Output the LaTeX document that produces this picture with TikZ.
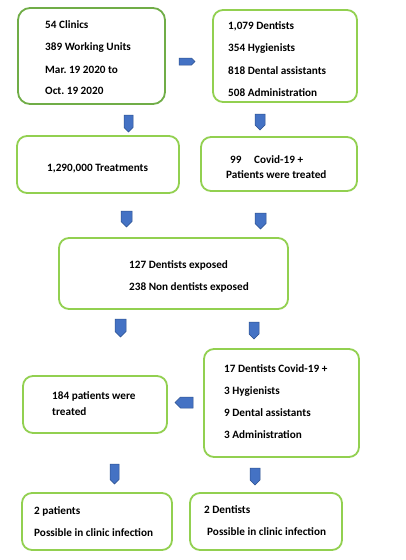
\documentclass[tikz,border=0pt]{standalone}
\usepackage{fontspec}
\setmainfont{Carlito}
\frenchspacing
\definecolor{boxgreen}{HTML}{92D050}
\definecolor{boxdark}{HTML}{70AD47}
\definecolor{arrblue}{HTML}{4472C4}
\definecolor{arrdark}{HTML}{2F528F}
\begin{document}
\begin{tikzpicture}[x=1pt,y=-1pt,
  box/.style={draw=boxgreen, line width=1.8pt, rounded corners=10pt, inner sep=0pt},
  txt/.style={anchor=base west, inner sep=0pt, font=\bfseries\fontsize{11.2}{13}\selectfont},
  blk/.style={fill=arrblue, draw=arrdark, line width=0.5pt},
  pics/darrow/.style n args={2}{code={\filldraw[blk] (-#1/2,0) -- (#1/2,0) -- (#1/2,#2-#1/2) -- (0,#2) -- (-#1/2,#2-#1/2) -- cycle;}},
  pics/rarrow/.style n args={2}{code={\filldraw[blk] (0,-#2/2) -- (#1-#2/2,-#2/2) -- (#1,0) -- (#1-#2/2,#2/2) -- (0,#2/2) -- cycle;}},
  pics/larrow/.style n args={2}{code={\filldraw[blk] (0,-#2/2) -- (-#1+#2/2,-#2/2) -- (-#1,0) -- (-#1+#2/2,#2/2) -- (0,#2/2) -- cycle;}}
]
\useasboundingbox[fill=white] (0,0) rectangle (406,560);

% boxes
\node[box, draw=boxdark, rounded corners=12pt, minimum width=147pt, minimum height=96pt] (b1) at (91.5,56) {};
\node[box, minimum width=144pt, minimum height=92pt] (b2) at (285,56) {};
\node[box, minimum width=162pt, minimum height=57pt] (b3) at (98,164.5) {};
\node[box, minimum width=156pt, minimum height=54pt] (b4) at (279,164) {};
\node[box, minimum width=229pt, minimum height=71pt] (b5) at (173.5,273.5) {};
\node[box, minimum width=155pt, minimum height=108pt] (b6) at (281.5,403) {};
\node[box, minimum width=144pt, minimum height=57pt] (b7) at (95,404.5) {};
\node[box, minimum width=150pt, minimum height=57pt] (b8) at (97,521.5) {};
\node[box, minimum width=152pt, minimum height=57pt] (b9) at (266,521.5) {};

% texts
\node[txt] (t11) at (45,28) {54 Clinics};
\node[txt] (t12) at (45,50) {389 Working Units};
\node[txt] (t13) at (45,73) {Mar. 19 2020 to};
\node[txt] (t14) at (45,94) {Oct. 19 2020};

\node[txt] (t21) at (228,29) {1,079 Dentists};
\node[txt] (t22) at (228,51) {354 Hygienists};
\node[txt] (t23) at (228,74) {818 Dental assistants};
\node[txt] (t24) at (228,96) {508 Administration};

\node[txt] (t31) at (47,171) {1,290,000 Treatments};

\node[txt] (t41) at (230,163) {99};
\node[txt] (t42) at (254,163) {Covid-19 +};
\node[txt] (t43) at (226,178) {Patients were treated};

\node[txt] (t51) at (129,268) {127 Dentists exposed};
\node[txt] (t52) at (129,290) {238 Non dentists exposed};

\node[txt] (t61) at (224,372) {17 Dentists Covid-19 +};
\node[txt] (t62) at (224,394) {3 Hygienists};
\node[txt] (t63) at (224,416) {9 Dental assistants};
\node[txt] (t64) at (224,438) {3 Administration};

\node[txt] (t71) at (52,399) {184 patients were};
\node[txt] (t72) at (52,415) {treated};

\node[txt] (t81) at (34,514) {2 patients};
\node[txt] (t82) at (34,536) {Possible in clinic infection};

\node[txt] (t91) at (204,513) {2 Dentists};
\node[txt] (t92) at (207,535) {Possible in clinic infection};

% block arrows
\pic at (179,61.5) {rarrow={16}{7}};
\pic at (128.5,115) {darrow={9}{17}};
\pic at (260,114) {darrow={10}{16}};
\pic at (126.5,211) {darrow={11}{16}};
\pic at (260.5,213) {darrow={11}{16}};
\pic at (120.5,319) {darrow={11}{18}};
\pic at (254,322) {darrow={10}{17}};
\pic at (193,402.5) {larrow={18}{11}};
\pic at (114.5,464) {darrow={9}{20}};
\pic at (255,468) {darrow={10}{17}};
\end{tikzpicture}
\end{document}
